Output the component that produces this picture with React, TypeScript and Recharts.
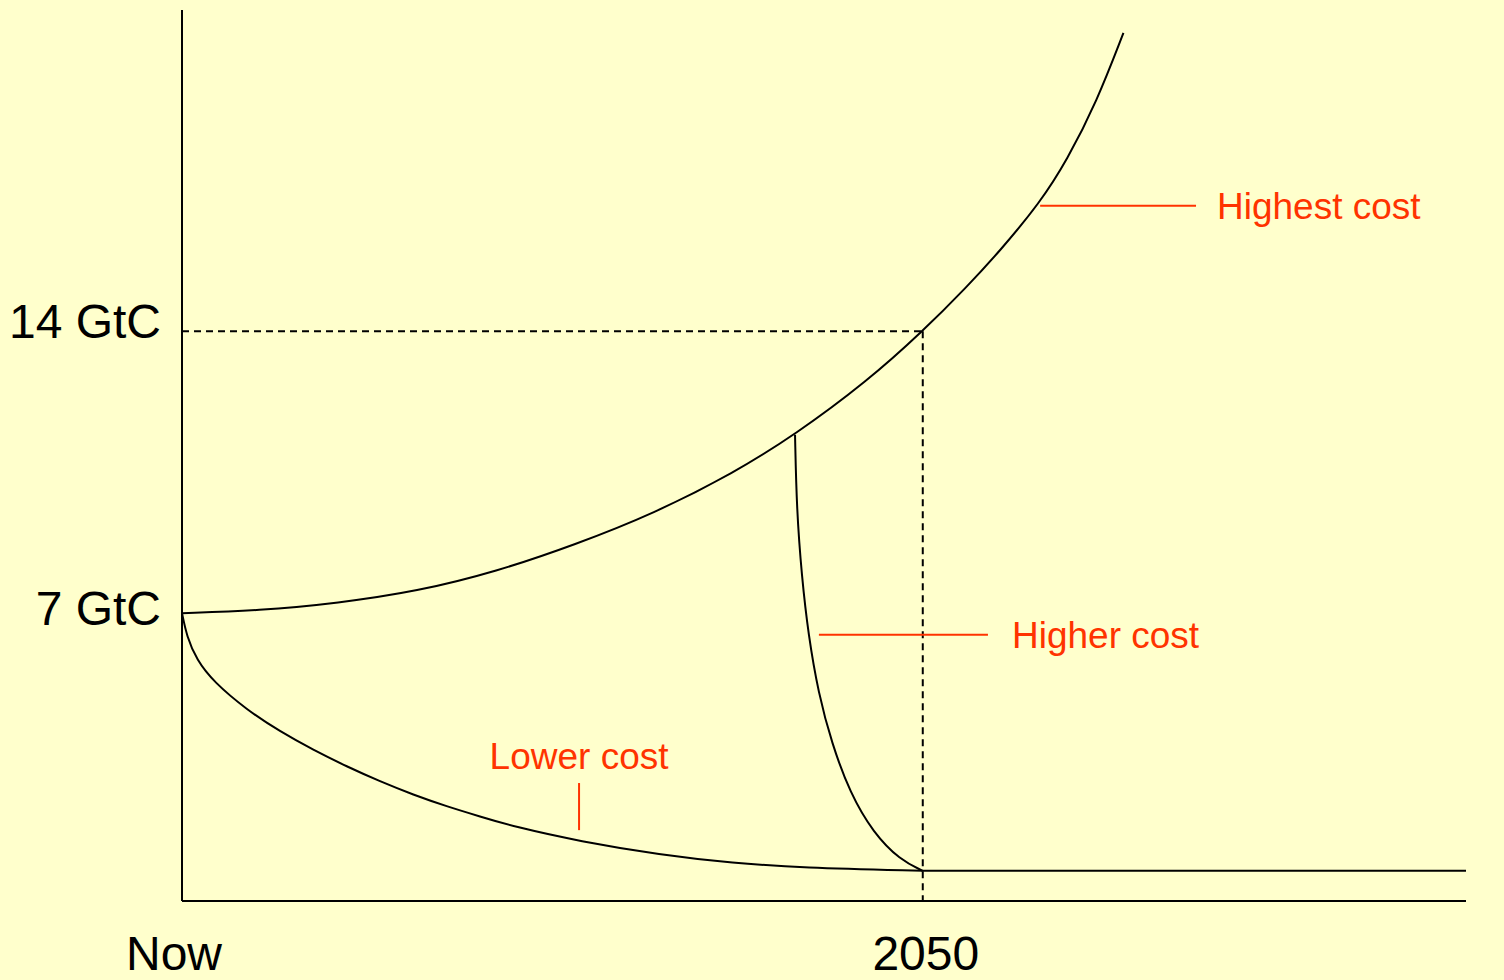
import { Line, LineChart, ReferenceLine, XAxis, YAxis } from "recharts";

const xDomain = [2005, 2083];
const yDomain = [-0.15, 21.98];

const xTicks = [2005, 2050];
const xTickLabels = ["Now", "2050"];
const yTicks = [7, 14];
const yTickLabels = ["7 GtC", "14 GtC"];

// highest cost: emissions keep growing
const highestYears = [2005, 2009.68, 2014.48, 2019.28, 2024.08, 2028.88, 2033.7, 2038.51, 2042.24, 2046.6, 2050, 2052.67, 2054.7, 2057.13, 2058.75, 2060.57, 2062.19];
const highestGtC = [7.0, 7.06, 7.25, 7.54, 8.03, 8.7, 9.48, 10.48, 11.43, 12.75, 14.0, 15.1, 16.0, 17.2, 18.24, 19.7, 21.41];

// lower cost: act now
const lowerYears = [2005, 2005.29, 2005.89, 2006.9, 2008.93, 2010.95, 2012.98, 2015.01, 2017.03, 2019.05, 2021.08, 2023.1, 2025.13, 2029.18, 2034.04, 2038.51, 2042.54, 2050];
const lowerGtC = [7.0, 6.42, 5.84, 5.3, 4.6, 4.06, 3.6, 3.19, 2.82, 2.49, 2.2, 1.95, 1.7, 1.33, 1.0, 0.79, 0.68, 0.6];

// after 2050 the level stays flat
const flatYears = [2050, 2083];
const flatGtC = [0.6, 0.6];

// higher cost: late, steep cut
const higherYears = [2042.24, 2042.34, 2042.65, 2043.05, 2043.66, 2044.47, 2045.58, 2047.0, 2048.62, 2050];
const higherGtC = [11.43, 9.57, 7.91, 6.46, 5.01, 3.77, 2.53, 1.54, 0.87, 0.6];

const highestLabel = { text: "Highest cost", from: { x: 2057.13, y: 17.12 }, to: { x: 2066.6, y: 17.12 } };
const higherLabel = { text: "Higher cost", from: { x: 2043.69, y: 6.46 }, to: { x: 2053.96, y: 6.46 } };
const lowerLabel = { text: "Lower cost", from: { x: 2029.12, y: 2.78 }, to: { x: 2029.12, y: 1.61 } };

const toRows = (xs: number[], ys: number[]) => xs.map((x, i) => ({ x, y: ys[i] }));

const FONT = '"Liberation Sans", Arial, sans-serif';
const RED = "#ff3300";

function XTick({ x, y, payload }: any) {
  const i = xTicks.indexOf(payload.value);
  const dx = i === 0 ? -8 : 3;
  return (
    <text x={x + dx} y={y + 69} textAnchor="middle" fontSize={48} fontFamily={FONT} fill="#000">
      {xTickLabels[i]}
    </text>
  );
}

function YTick({ x, y, payload }: any) {
  const i = yTicks.indexOf(payload.value);
  const dy = i === 0 ? 12 : 7;
  return (
    <text x={x - 21} y={y + dy} textAnchor="end" fontSize={48} fontFamily={FONT} fill="#000">
      {yTickLabels[i]}
    </text>
  );
}

const redLabel = (value: string, position: "right" | "top", offset: number) => ({
  value,
  position,
  offset,
  fill: RED,
  fontSize: 37,
  fontFamily: FONT,
});

export default function App() {
  return (
    <div style={{ position: "absolute", left: 0, top: 0, width: 1504, height: 980, background: "#ffffcc" }}>
      <LineChart width={1504} height={980} margin={{ top: 10, right: 38, bottom: 0, left: 0 }}>
        <XAxis
          type="number"
          dataKey="x"
          domain={xDomain}
          ticks={xTicks}
          height={79}
          tickSize={0}
          tickMargin={0}
          tickLine={false}
          axisLine={{ stroke: "#000", strokeWidth: 2 }}
          tick={<XTick />}
          allowDataOverflow
        />
        <YAxis
          type="number"
          dataKey="y"
          domain={yDomain}
          ticks={yTicks}
          width={182}
          tickSize={0}
          tickMargin={0}
          tickLine={false}
          axisLine={{ stroke: "#000", strokeWidth: 2 }}
          tick={<YTick />}
          allowDataOverflow
        />
        <ReferenceLine
          segment={[{ x: 2005, y: 14 }, { x: 2050, y: 14 }]}
          stroke="#000"
          strokeWidth={2}
          strokeDasharray="7 5"
        />
        <ReferenceLine
          segment={[{ x: 2050, y: 14 }, { x: 2050, y: yDomain[0] }]}
          stroke="#000"
          strokeWidth={2}
          strokeDasharray="7 5"
        />
        <Line data={toRows(highestYears, highestGtC)} dataKey="y" type="basis" stroke="#000" strokeWidth={2} dot={false} isAnimationActive={false} />
        <Line data={toRows(lowerYears, lowerGtC)} dataKey="y" type="basis" stroke="#000" strokeWidth={2} dot={false} isAnimationActive={false} />
        <Line data={toRows(flatYears, flatGtC)} dataKey="y" type="linear" stroke="#000" strokeWidth={2} dot={false} isAnimationActive={false} />
        <Line data={toRows(higherYears, higherGtC)} dataKey="y" type="basis" stroke="#000" strokeWidth={2} dot={false} isAnimationActive={false} />
        <ReferenceLine
          segment={[highestLabel.from, highestLabel.to]}
          stroke={RED}
          strokeWidth={2}
          label={redLabel(highestLabel.text, "right", 21)}
        />
        <ReferenceLine
          segment={[higherLabel.from, higherLabel.to]}
          stroke={RED}
          strokeWidth={2}
          label={redLabel(higherLabel.text, "right", 24)}
        />
        <ReferenceLine
          segment={[lowerLabel.from, lowerLabel.to]}
          stroke={RED}
          strokeWidth={2}
          label={redLabel(lowerLabel.text, "top", 14)}
        />
      </LineChart>
    </div>
  );
}
